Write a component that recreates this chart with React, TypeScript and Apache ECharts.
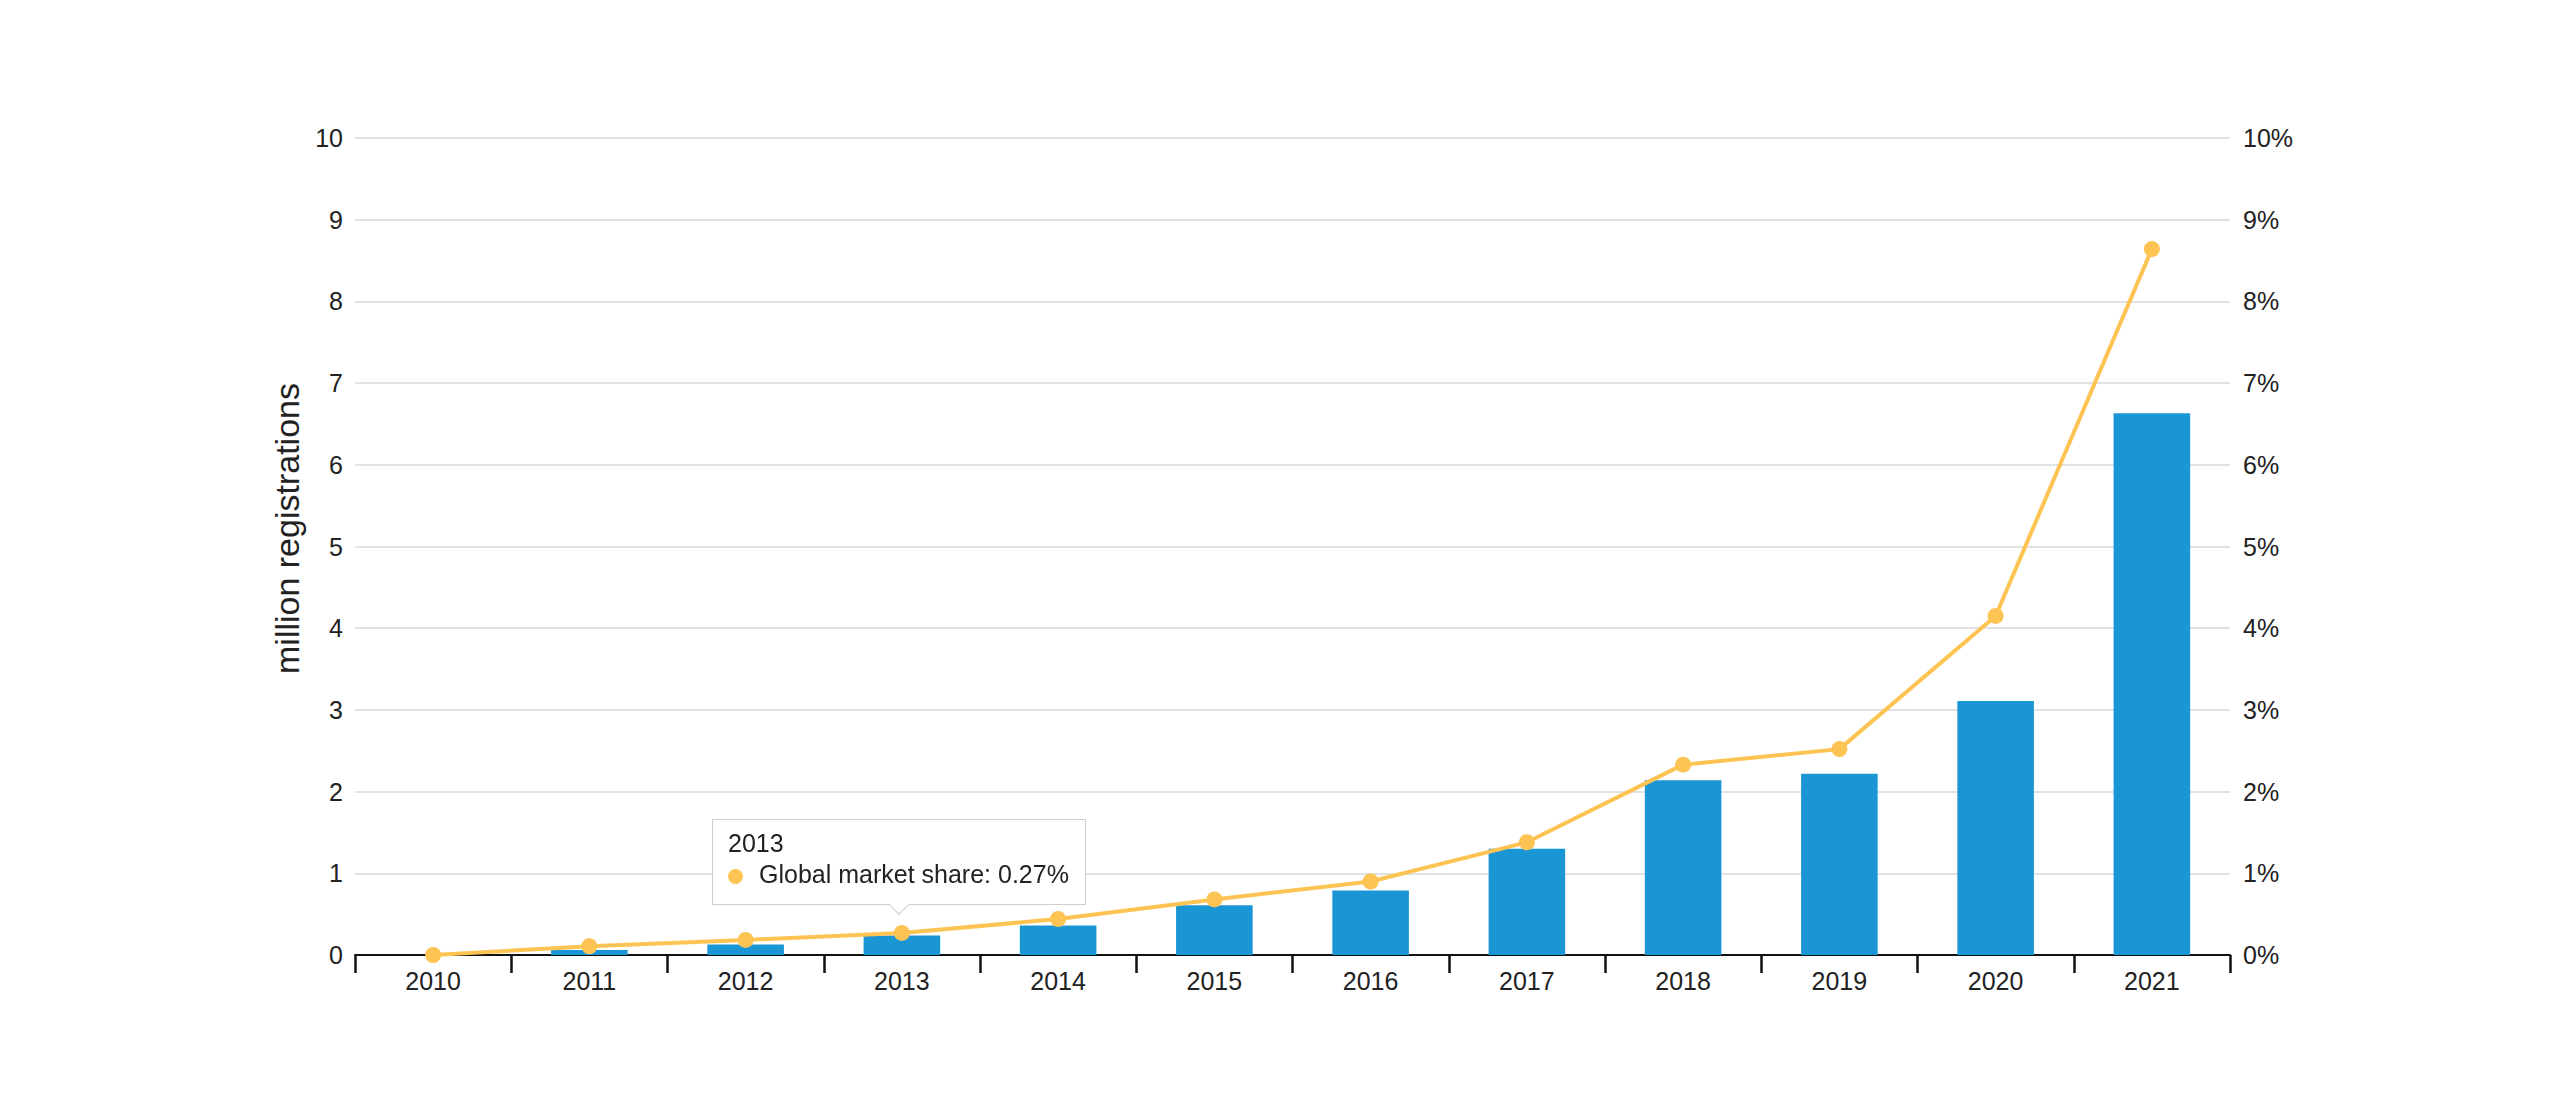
import { useEffect, useRef } from 'react';
import * as echarts from 'echarts';

const years = ['2010', '2011', '2012', '2013', '2014', '2015', '2016', '2017', '2018', '2019', '2020', '2021'];
// million registrations
const registrations = [0, 0.06, 0.128, 0.24, 0.36, 0.61, 0.79, 1.3, 2.14, 2.22, 3.11, 6.63];
// global market share, %
const marketShare = [0, 0.107, 0.185, 0.27, 0.44, 0.68, 0.9, 1.38, 2.33, 2.52, 4.15, 8.64];

const FONT = "'Liberation Sans', Arial, Helvetica, sans-serif";
const TIP_INDEX = 3;

const App = () => {
    const chartRef = useRef<HTMLDivElement | null>(null);

    useEffect(() => {
        document.body.style.margin = '0';
        if (!chartRef.current) return;
        const myChart = echarts.init(chartRef.current, null, { renderer: 'svg' });

        // small arrow under the tooltip box, pointing at the data point
        const arrow =
            '<div style="position:absolute;left:50%;bottom:-8px;width:13px;height:13px;margin-left:-7px;' +
            'background:#fff;border-right:1px solid #cfcfcf;border-bottom:1px solid #cfcfcf;transform:rotate(45deg)"></div>';

        const option = {
            animation: false,
            textStyle: { fontFamily: FONT },
            grid: { left: 355, right: 320, top: 138, bottom: 159 },
            tooltip: {
                trigger: 'item',
                alwaysShowContent: true,
                triggerOn: 'none',
                backgroundColor: '#fff',
                borderColor: '#cfcfcf',
                borderWidth: 1,
                padding: [8, 16, 14, 15],
                extraCssText: 'box-shadow:none;border-radius:0;',
                textStyle: { fontFamily: FONT, fontSize: 25, color: '#222' },
                position: (_point: any, _params: any, _dom: any, _rect: any, size: any) => {
                    const [px, py] = myChart.convertToPixel({ seriesIndex: 1 }, [TIP_INDEX, marketShare[TIP_INDEX]]);
                    const [w, h] = size.contentSize;
                    return [px - w / 2 - 3, py - 28 - h];
                },
                formatter: (p: any) =>
                    `<div style="line-height:31px">${p.name}</div>` +
                    `<div style="line-height:31px"><span style="display:inline-block;width:15px;height:15px;border-radius:50%;background:${p.color};margin-right:16px;vertical-align:-1px"></span>${p.seriesName}: ${p.value}%</div>` +
                    arrow
            },
            xAxis: {
                type: 'category',
                data: years,
                axisLine: { lineStyle: { color: '#111', width: 2 } },
                axisTick: { show: true, length: 18, lineStyle: { color: '#111', width: 2.5 } },
                axisLabel: { fontSize: 25, color: '#222', margin: 13, fontFamily: FONT }
            },
            yAxis: [
                {
                    type: 'value',
                    min: 0,
                    max: 10,
                    interval: 1,
                    name: 'million registrations',
                    nameLocation: 'middle',
                    nameGap: 46,
                    nameTextStyle: { fontSize: 34, color: '#222', fontFamily: FONT, padding: [0, 0, 0, 36] },
                    axisLine: { show: false },
                    axisTick: { show: false },
                    axisLabel: { fontSize: 25, color: '#222', margin: 12, fontFamily: FONT },
                    splitLine: { lineStyle: { color: '#d9d9d9', width: 1.5 } }
                },
                {
                    type: 'value',
                    min: 0,
                    max: 10,
                    interval: 1,
                    axisLine: { show: false },
                    axisTick: { show: false },
                    axisLabel: { fontSize: 25, color: '#222', margin: 13, formatter: '{value}%', fontFamily: FONT },
                    splitLine: { show: false }
                }
            ],
            series: [
                {
                    name: 'Registrations',
                    type: 'bar',
                    data: registrations,
                    barWidth: '49%',
                    itemStyle: { color: '#1a96d5' },
                    tooltip: { show: false }
                },
                {
                    name: 'Global market share',
                    type: 'line',
                    yAxisIndex: 1,
                    data: marketShare,
                    symbol: 'circle',
                    symbolSize: 16,
                    itemStyle: { color: '#fdc454' },
                    lineStyle: { color: '#fdc454', width: 4 }
                }
            ]
        };

        myChart.setOption(option);
        myChart.dispatchAction({ type: 'showTip', seriesIndex: 1, dataIndex: TIP_INDEX });

        return () => {
            myChart.dispose();
        };
    }, []);

    return <div ref={chartRef} style={{ width: 2550, height: 1114 }} />;
};

export default App;
